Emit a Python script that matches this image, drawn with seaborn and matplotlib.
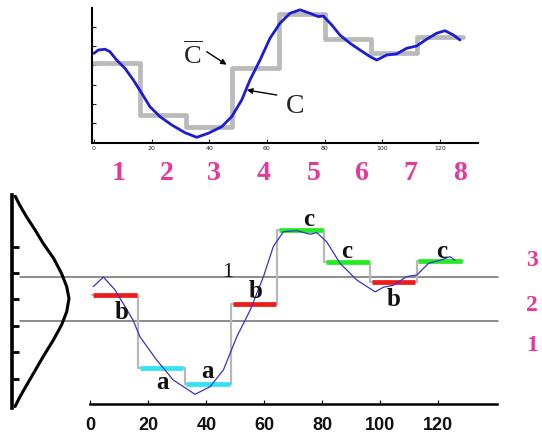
import numpy as np
import pandas as pd
import seaborn as sns
import matplotlib
matplotlib.use('Agg')
import matplotlib.pyplot as plt

# Top panel: raw series C and its segment means (C bar)
top_x = [0, 1.49, 3.82, 5.55, 7.87, 10.75, 13.63, 16.55, 19.42, 22.89, 26.95, 31.56,
         35.62, 39.65, 44.29, 47.76, 51.23, 54.11, 57.58, 61.05, 64.52, 67.98, 71.45,
         74.92, 77.8, 79.53, 82.45, 85.33, 88.8, 92.27, 95.73, 98.06, 101.53, 105.0,
         108.46, 111.93, 115.4, 118.87, 121.75, 124.63, 126.95]
top_y = [4.62, 4.79, 4.83, 4.70, 4.27, 3.84, 3.24, 2.55, 1.85, 1.34, 0.91, 0.51,
         0.27, 0.48, 0.82, 1.34, 2.20, 3.24, 4.27, 5.40, 6.18, 6.69, 6.87,
         6.69, 6.52, 6.55, 6.09, 5.56, 5.14, 4.79, 4.45, 4.27, 4.53, 4.59,
         4.88, 5.00, 5.35, 5.66, 5.79, 5.57, 5.31]
seg_edges = [0, 16, 32, 48, 64, 80, 96, 112, 128]
seg_mean = [4.12, 1.42, 0.80, 3.84, 6.66, 5.35, 4.65, 5.48]
seg_names = ['1', '2', '3', '4', '5', '6', '7', '8']
seg_name_x = [8.4, 25.2, 41.4, 58.7, 76.1, 92.9, 109.6, 127.0]
top_xticks = [0, 20, 40, 60, 80, 100, 120]

# Bottom panel: normalised series and its symbols
bot_x = [1.0, 4.5, 8.5, 14.7, 17.1, 22.9, 28.6, 36.1, 41.3, 45.9, 50.5, 55.1, 59.7,
         63.1, 66.6, 71.2, 75.8, 78.1, 81.5, 86.1, 91.9, 98.2, 101.0, 104.5, 109.1,
         112.6, 116.6, 120.6, 124.0, 125.7]
bot_y = [0.24, 0.43, 0.18, -0.41, -0.74, -1.20, -1.59, -1.87, -1.72, -1.39, -0.74,
         -0.22, 0.44, 1.03, 1.32, 1.34, 1.27, 1.30, 1.12, 0.70, 0.37, 0.14, 0.23,
         0.27, 0.44, 0.47, 0.70, 0.76, 0.83, 0.76]
sym_edges = [0.5, 16.5, 32.5, 48.5, 64.5, 80.5, 96.5, 112.5, 128.5]
sym_level = [0.08, -1.36, -1.67, -0.10, 1.35, 0.73, 0.34, 0.75]
sym_letter = ['b', 'a', 'a', 'b', 'c', 'c', 'b', 'c']
sym_color = {'a': '#33e3f0', 'b': '#ee1b1b', 'c': '#22ec22'}
letter_x = [10.8, 24.9, 40.4, 57.1, 75.2, 88.4, 104.5, 121.2]
letter_y = [-0.26, -1.64, -1.43, 0.14, 1.55, 0.93, -0.02, 0.93]
breakpoints = [-0.43, 0.43]
region_names = ['1', '2', '3']
region_y = [-0.92, -0.13, 0.76]
bot_xticks = [0, 20, 40, 60, 80, 100, 120]

# Gaussian on the left
gauss_d = [0.06, 0.14, 0.26, 0.41, 0.55, 0.73, 0.87, 0.96, 1.0, 0.96, 0.87, 0.73,
           0.55, 0.38, 0.23, 0.13, 0.06]
gauss_z = [2.02, 1.84, 1.61, 1.35, 1.09, 0.80, 0.50, 0.24, 0.01, -0.25, -0.51,
           -0.80, -1.13, -1.46, -1.75, -1.95, -2.11]
gauss_ticks = [1.01, 0.5, -0.01, -0.53, -1.05, -1.57]

sns.set_theme(style='white')
plt.rcParams['font.family'] = ['Liberation Serif', 'DejaVu Serif']
plt.rcParams['mathtext.fontset'] = 'custom'
plt.rcParams['mathtext.rm'] = 'Liberation Serif'

PINK = '#e6389c'
W, H = 542, 438
fig = plt.figure(figsize=(W / 100, H / 100), dpi=100)

# ---- top panel
ax1 = fig.add_axes([92.3 / W, 1 - 143.3 / H, (478 - 92.3) / W, (143.3 - 8.3) / H])
ax1.set_facecolor('none')
step_y = seg_mean + [seg_mean[-1]]
sns.lineplot(x=seg_edges, y=step_y, drawstyle='steps-post', color='#bababa',
             linewidth=3.4, ax=ax1, legend=False)
sns.lineplot(x=top_x, y=top_y, color='#1c1cd6', linewidth=2.0, ax=ax1,
             legend=False, sort=False, estimator=None)
ax1.set_xlim(-0.59, 133.2)
ax1.set_ylim(-0.04, 6.95)
ax1.set_xticks(top_xticks)
ax1.set_xticklabels([str(t) for t in top_xticks], fontsize=4.5, color='#666666',
                    family='DejaVu Sans')
ax1.set_yticks([1, 2, 3, 4, 5, 6])
ax1.set_yticklabels([])
ax1.tick_params(direction='in', length=3, width=0.8, pad=2, colors='#222222',
                left=True, bottom=True)
for s in ['top', 'right']:
    ax1.spines[s].set_visible(False)
for s in ['left', 'bottom']:
    ax1.spines[s].set_color('black')
    ax1.spines[s].set_linewidth(1.5)
ax1.set_xlabel('')
ax1.set_ylabel('')

arrow = dict(arrowstyle='-|>', color='black', lw=1.0, mutation_scale=8,
             shrinkA=0, shrinkB=0)
ax1.text(34.3, 4.53, r'$\overline{\mathrm{C}}$', fontsize=19, ha='center', va='center')
ax1.annotate('', xy=(46.0, 4.03), xytext=(39.1, 4.70), arrowprops=arrow)
ax1.text(69.7, 1.89, 'C', fontsize=20, ha='center', va='center')
ax1.annotate('', xy=(53.0, 2.72), xytext=(63.4, 2.46), arrowprops=arrow)

for nx, nm in zip(seg_name_x, seg_names):
    ax1.text(nx, -1.58, nm, fontsize=20, fontweight='bold', color=PINK,
             ha='center', va='center', clip_on=False)

# ---- bottom panel
ax2 = fig.add_axes([90.3 / W, 1 - 404 / H, (496.7 - 90.3) / W, (404 - 196) / H])
ax2.set_facecolor('none')
for b in breakpoints:
    ax2.axhline(b, xmin=-0.173, xmax=1.003, color='#6e6e6e', lw=1.1, clip_on=False,
                zorder=1)
sym_step = sym_level + [sym_level[-1]]
sns.lineplot(x=sym_edges, y=sym_step, drawstyle='steps-post', color='#b8b8b8',
             linewidth=1.6, ax=ax2, legend=False)
ax2.hlines(sym_level, [e + 0.6 for e in sym_edges[:-1]],
           [e + 15.6 for e in sym_edges[:-1]],
           colors=[sym_color[s] for s in sym_letter], lw=3.4, zorder=3)
sns.lineplot(x=bot_x, y=bot_y, color='#3535c8', linewidth=0.9, ax=ax2,
             legend=False, sort=False, estimator=None, zorder=4)
for lx, ly, s in zip(letter_x, letter_y, sym_letter):
    ax2.text(lx, ly, s, fontsize=18, fontweight='bold', ha='center', va='center',
             color='#111111', zorder=5)
ax2.text(47.5, 0.51, '1', fontsize=16, ha='center', va='center', color='#111111')
for ry, rn in zip(region_y, region_names):
    ax2.text(152.2, ry, rn, fontsize=17, fontweight='bold', color=PINK,
             ha='center', va='center', clip_on=False)

ax2.set_xlim(0, 140.1)
ax2.set_ylim(-2.06, 2.02)
ax2.set_xticks(bot_xticks)
ax2.set_xticklabels([str(t) for t in bot_xticks], fontsize=13, fontweight='bold',
                    family='Liberation Sans', color='#111111')
ax2.set_yticks([])
ax2.tick_params(axis='x', direction='in', length=3, width=0.9, pad=9,
                bottom=True, colors='#111111')
for s in ['top', 'right', 'left']:
    ax2.spines[s].set_visible(False)
ax2.spines['bottom'].set_color('black')
ax2.spines['bottom'].set_linewidth(1.8)
ax2.set_xlabel('')
ax2.set_ylabel('')

# ---- gaussian
ax0 = fig.add_axes([11.7 / W, 1 - 408 / H, 65 / W, 213 / H])
ax0.set_facecolor('none')
sns.lineplot(x=gauss_d, y=gauss_z, color='black', linewidth=2.2, ax=ax0,
             legend=False, sort=False, estimator=None)
ax0.set_xlim(0, 65 / 57.3)
ax0.set_ylim(-2.14, 2.04)
ax0.set_xticks([])
ax0.set_yticks(gauss_ticks)
ax0.set_yticklabels([])
ax0.tick_params(axis='y', direction='in', length=5, width=2, left=True,
                colors='black')
for s in ['top', 'right', 'bottom']:
    ax0.spines[s].set_visible(False)
ax0.spines['left'].set_color('black')
ax0.spines['left'].set_linewidth(2.6)
ax0.set_xlabel('')
ax0.set_ylabel('')

fig.savefig('out.png', dpi=100)
